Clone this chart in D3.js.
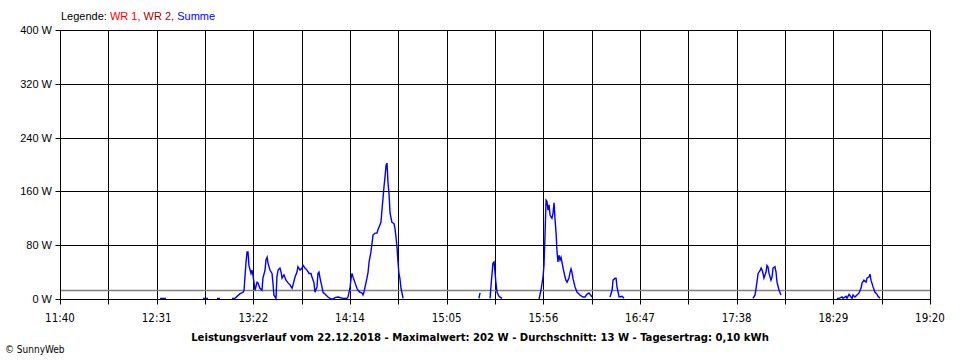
<!DOCTYPE html>
<html><head><meta charset="utf-8">
<script src="https://cdn.jsdelivr.net/npm/d3@7"></script>
<style>
html,body{margin:0;padding:0;background:#fff;}
svg{display:block;}
</style></head>
<body>
<svg id="chart" width="960" height="360"></svg>
<script>
// ---- data (time in minutes of day, value in W; null breaks the line) ----
const timeLabels = ["11:40","12:31","13:22","14:14","15:05","15:56","16:47","17:38","18:29","19:20"];
const yTicks = [0, 80, 160, 240, 320, 400];
const legendItems = ["WR 1", "WR 2", "Summe"];
const averageW = 13;
const titleText = "Leistungsverlauf vom 22.12.2018 - Maximalwert: 202 W - Durchschnitt: 13 W - Tagesertrag: 0,10 kWh";

const times = [
 752.9,756.0,null,
 775.6,778.3,null,
 783.0,784.6,null,
 790.9,792.5,795.2,796.8,797.3,798.3,798.9,799.4,799.9,801.0,801.5,802.0,802.6,803.1,804.2,804.7,805.7,806.8,807.3,808.4,808.9,809.5,810.0,811.0,812.1,812.6,813.1,814.2,814.7,815.3,816.3,816.9,817.4,818.4,819.5,820.6,821.6,822.7,823.2,824.3,825.3,825.8,826.9,828.0,828.5,829.5,830.6,831.7,832.7,833.2,834.3,834.8,835.9,836.4,836.9,837.5,838.5,839.1,840.6,841.7,843.3,844.3,845.4,847.0,849.6,851.7,852.3,853.3,853.9,854.4,854.9,856.0,857.0,857.6,858.6,859.7,860.2,860.7,861.3,862.3,862.9,863.4,864.4,865.0,865.5,866.6,867.6,868.1,868.7,869.7,870.3,870.8,871.3,871.8,872.4,872.9,873.4,874.0,874.5,875.5,876.1,876.6,877.1,877.7,878.2,878.7,879.2,879.7,880.3,880.8,881.4,null,
 882.4,885.1,null,
 896.7,907.3,null,909.9,913.1,null,915.7,918.4,null,
 921.0,921.5,922.1,null,
 926.8,927.4,927.9,928.9,929.5,930.5,931.1,932.1,933.7,null,
 952.7,953.3,954.3,955.4,955.9,956.4,957.0,957.5,958.0,958.6,959.1,959.6,960.1,960.7,961.2,961.7,962.3,962.8,963.3,963.8,964.4,964.9,965.4,966.0,967.0,967.5,968.1,969.1,969.7,970.2,970.7,971.2,972.3,973.4,973.9,974.9,976.5,977.6,978.6,979.7,981.3,null,
 985.5,987.1,null,
 989.8,990.8,991.9,992.4,993.5,994.0,994.5,995.6,997.2,998.2,null,
 1002.4,1004.0,null,
 1062.2,1063.8,null,
 1065.9,1066.4,1067.5,1068.5,1069.1,1070.1,1070.7,1071.2,1071.7,1072.2,1073.3,1073.8,1074.3,1074.9,1075.9,1076.5,1077.0,1078.0,1078.6,1079.1,1080.2,1081.2,null,
 1109.2,1110.8,1111.9,1113.5,1114.0,1115.6,1116.1,1117.2,1118.8,1119.3,1120.3,1121.4,1122.5,1123.5,1124.1,1125.1,1126.2,1126.7,1127.8,1128.3,1128.8,1129.9,1130.9,1132.0,1132.5,1133.6
];
const watts = [
 1,1,null,
 1,1,null,
 1,1,null,
 1,1,8,10,13,53,70,70,50,38,43,36,24,13,25,24,16,13,31,43,58,62,53,43,38,24,6,1,33,43,46,40,31,36,28,24,21,16,21,33,40,48,43,46,50,46,43,38,38,33,24,10,18,38,40,31,18,10,6,3,0,0,2,3,1,1,3,16,31,38,33,24,16,13,10,9,6,10,18,31,40,55,70,83,95,98,98,103,107,114,135,150,167,180,199,202,174,155,128,114,113,112,105,91,76,55,38,31,16,9,1,0,null,
 1,1,null,
 1,1,null,1,1,null,1,1,null,
 1,9,1,null,
 1,20,53,55,24,10,4,1,0,null,
 0,13,33,50,91,147,145,132,140,125,122,120,128,143,120,98,70,55,65,58,62,55,46,33,28,25,31,40,45,40,31,18,10,9,6,3,3,7,9,3,1,null,
 1,1,null,
 3,13,28,31,31,18,3,4,1,0,null,
 1,1,null,
 1,1,null,
 1,6,25,38,42,46,43,38,31,40,50,48,38,28,33,46,48,40,25,13,6,0,null,
 1,1,3,1,4,1,7,1,6,3,6,9,16,24,28,25,31,33,37,28,18,10,7,4,1,0
];

// ---- chart ----
const svg = d3.select("#chart");
const W = 960, H = 360;
const m = {left: 60, right: 30, top: 30, bottom: 61};
const x0 = m.left, x1 = W - m.right, yTop = m.top, yBot = H - m.bottom;

const tStart = 700, tEnd = 1160;
const x = d3.scaleLinear().domain([tStart, tEnd]).range([x0, x1]);
const y = d3.scaleLinear().domain([0, 400]).range([yBot, yTop]);

const gridTimes = d3.range(0, 19).map(i => tStart + i * (tEnd - tStart) / 18);
const font = "'Liberation Sans Narrow','DejaVu Sans Condensed','Liberation Sans',Arial,sans-serif";
const fontR = "'Liberation Sans',Arial,sans-serif";

const crisp = v => Math.round(v) + 0.5;

// vertical grid
svg.append("g").selectAll("line").data(gridTimes).join("line")
  .attr("x1", d => crisp(x(d))).attr("x2", d => crisp(x(d)))
  .attr("y1", crisp(yTop)).attr("y2", crisp(yBot) + 5)
  .attr("stroke", "#000").attr("stroke-width", 1);

// horizontal grid
svg.append("g").selectAll("line").data(yTicks).join("line")
  .attr("x1", crisp(x0) - 5).attr("x2", crisp(x1))
  .attr("y1", d => crisp(y(d))).attr("y2", d => crisp(y(d)))
  .attr("stroke", "#000").attr("stroke-width", 1);

// average line
svg.append("line")
  .attr("x1", x0 + 1).attr("x2", x1)
  .attr("y1", crisp(y(averageW))).attr("y2", crisp(y(averageW)))
  .attr("stroke", "#808080").attr("stroke-width", 1.5);

// y labels
svg.append("g").selectAll("text").data(yTicks).join("text")
  .attr("x", x0 - 8).attr("y", d => y(d) + 4)
  .attr("text-anchor", "end")
  .attr("font-family", fontR).attr("font-size", 11)
  .text(d => d + " W");

// x labels
const labelTimes = gridTimes.filter((d, i) => i % 2 === 0);
svg.append("g").selectAll("text").data(labelTimes).join("text")
  .attr("x", d => x(d)).attr("y", yBot + 23)
  .attr("text-anchor", "middle")
  .attr("font-family", font).attr("font-size", 11.5)
  .text((d, i) => timeLabels[i]);

// series line
const pts = times.map((t, i) => ({t, v: watts[i]}));
const line = d3.line()
  .defined(d => d.t !== null && d.v !== null)
  .x(d => x(d.t)).y(d => y(d.v));
svg.append("path").datum(pts)
  .attr("d", line)
  .attr("fill", "none").attr("stroke", "#0000ff").attr("stroke-width", 1.4)
  .attr("stroke-linejoin", "miter");

// legend
const leg = svg.append("text").attr("x", 61).attr("y", 20)
  .attr("font-family", fontR).attr("font-size", 11);
leg.append("tspan").attr("fill", "#000").text("Legende: ");
const legColors = ["#ff0000", "#a80000", "#0000ff"];
legendItems.forEach((s, i) => {
  leg.append("tspan").attr("fill", legColors[i]).text(s + (i < legendItems.length - 1 ? ", " : ""));
});

// title
svg.append("text").attr("x", 480).attr("y", 341)
  .attr("text-anchor", "middle")
  .attr("font-family", font).attr("font-size", 11.2).attr("font-weight", "bold")
  .text(titleText);

// copyright
svg.append("text").attr("x", 5).attr("y", 353)
  .attr("font-family", font).attr("font-size", 10)
  .text("© SunnyWeb");
</script>
</body></html>
